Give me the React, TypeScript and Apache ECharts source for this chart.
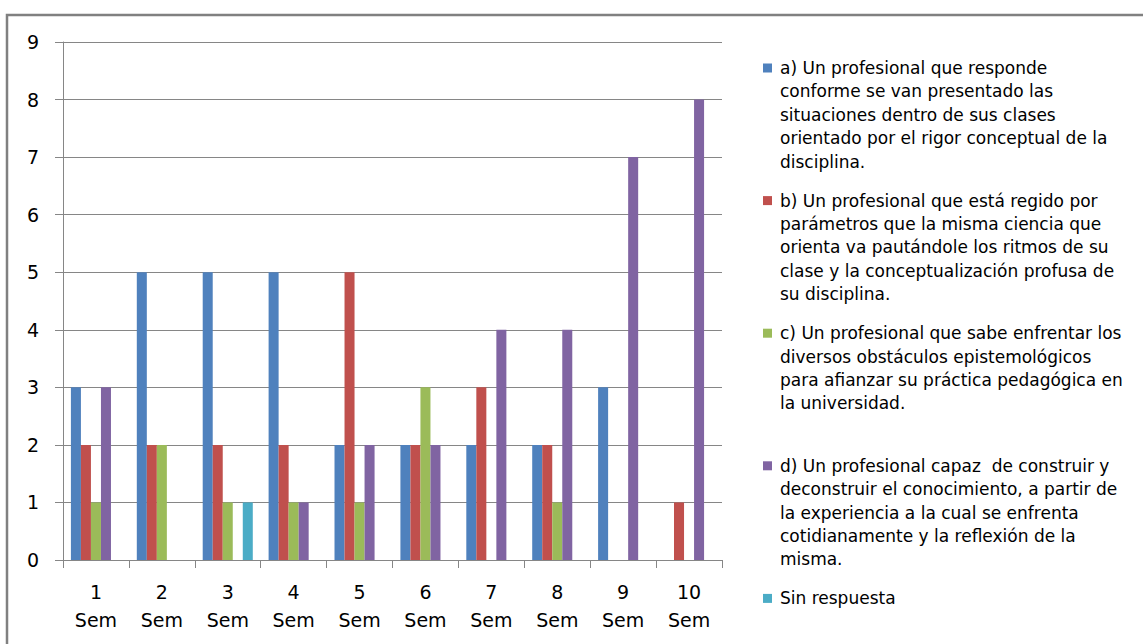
import { useEffect, useRef } from "react";
import * as echarts from "echarts";

const categories = ["1\nSem", "2\nSem", "3\nSem", "4\nSem", "5\nSem", "6\nSem", "7\nSem", "8\nSem", "9\nSem", "10\nSem"];

const seriesNames = [
  "a) Un profesional que responde\nconforme se van presentado las\nsituaciones dentro de sus clases\norientado por el rigor conceptual de la\ndisciplina.",
  "b) Un profesional que está regido por\nparámetros que la misma ciencia que\norienta va pautándole los ritmos de su\nclase y la conceptualización profusa de\nsu disciplina.",
  "c) Un profesional que sabe enfrentar los\ndiversos obstáculos epistemológicos\npara afianzar su práctica pedagógica en\nla universidad.\n",
  "d) Un profesional capaz  de construir y\ndeconstruir el conocimiento, a partir de\nla experiencia a la cual se enfrenta\ncotidianamente y la reflexión de la\nmisma.",
  "Sin respuesta",
];

const valuesA = [3, 5, 5, 5, 2, 2, 2, 2, 3, 0];
const valuesB = [2, 2, 2, 2, 5, 2, 3, 2, 0, 1];
const valuesC = [1, 2, 1, 1, 1, 3, 0, 1, 0, 0];
const valuesD = [3, 0, 0, 1, 2, 2, 4, 4, 7, 8];
const valuesSin = [0, 0, 1, 0, 0, 0, 0, 0, 0, 0];

const allValues = [valuesA, valuesB, valuesC, valuesD, valuesSin];
const colors = ["#4F81BD", "#C0504D", "#9BBB59", "#8064A2", "#4BACC6"];

const yMin = 0;
const yMax = 9;
const yInterval = 1;

export default function App() {
  const ref = useRef<HTMLDivElement>(null);

  useEffect(() => {
    if (!ref.current) return;
    const chart = echarts.init(ref.current, undefined, { renderer: "svg" });

    const legendFont = '17px "DejaVu Sans"';
    const lineH = 23.4;
    const itemStep = 132.6;
    const legendTop = 56.3;
    const legendGraphics: any[] = [];
    seriesNames.forEach((name, i) => {
      const top = legendTop + i * itemStep;
      legendGraphics.push({
        type: "rect",
        shape: { x: 763, y: top + lineH / 2 - 4.5, width: 9, height: 9 },
        style: { fill: colors[i] },
        silent: true,
      });
      legendGraphics.push({
        type: "text",
        x: 780,
        y: top,
        style: {
          text: name,
          font: legendFont,
          lineHeight: lineH,
          fill: "#000",
          verticalAlign: "top",
          align: "left",
        },
        silent: true,
      });
    });

    const option: any = {
      animation: false,
      backgroundColor: "#ffffff",
      grid: { left: 63, right: 421, top: 42, bottom: 84, containLabel: false },
      legend: { show: false },
      xAxis: {
        type: "category",
        data: categories,
        axisLine: { show: true, lineStyle: { color: "#868686", width: 1 } },
        axisTick: { show: true, interval: 0, length: 8, lineStyle: { color: "#868686" }, alignWithLabel: false },
        axisLabel: {
          interval: 0,
          margin: 18,
          fontFamily: "DejaVu Sans",
          fontSize: 19,
          lineHeight: 28,
          color: "#000",
        },
        splitLine: { show: false },
      },
      yAxis: {
        type: "value",
        min: yMin,
        max: yMax,
        interval: yInterval,
        axisLine: { show: true, lineStyle: { color: "#868686", width: 1 } },
        axisTick: { show: true, length: 8, lineStyle: { color: "#868686" } },
        axisLabel: {
          margin: 24,
          fontFamily: "DejaVu Sans",
          fontSize: 19,
          color: "#000",
        },
        splitLine: { show: true, lineStyle: { color: "#868686", width: 1 } },
      },
      series: allValues.map((vals, i) => ({
        type: "bar",
        name: seriesNames[i],
        data: vals,
        barGap: "0%",
        barCategoryGap: "24%",
        itemStyle: { color: colors[i] },
      })),
      graphic: [
        {
          type: "rect",
          shape: { x: 7, y: 15, width: 1160, height: 660 },
          style: { fill: "none", stroke: "#808080", lineWidth: 2.5 },
          silent: true,
        },
        ...legendGraphics,
      ],
    };

    chart.setOption(option);
    return () => chart.dispose();
  }, []);

  return (
    <div
      ref={ref}
      style={{ position: "fixed", left: 0, top: 0, width: 1143, height: 644, background: "#fff" }}
    />
  );
}
